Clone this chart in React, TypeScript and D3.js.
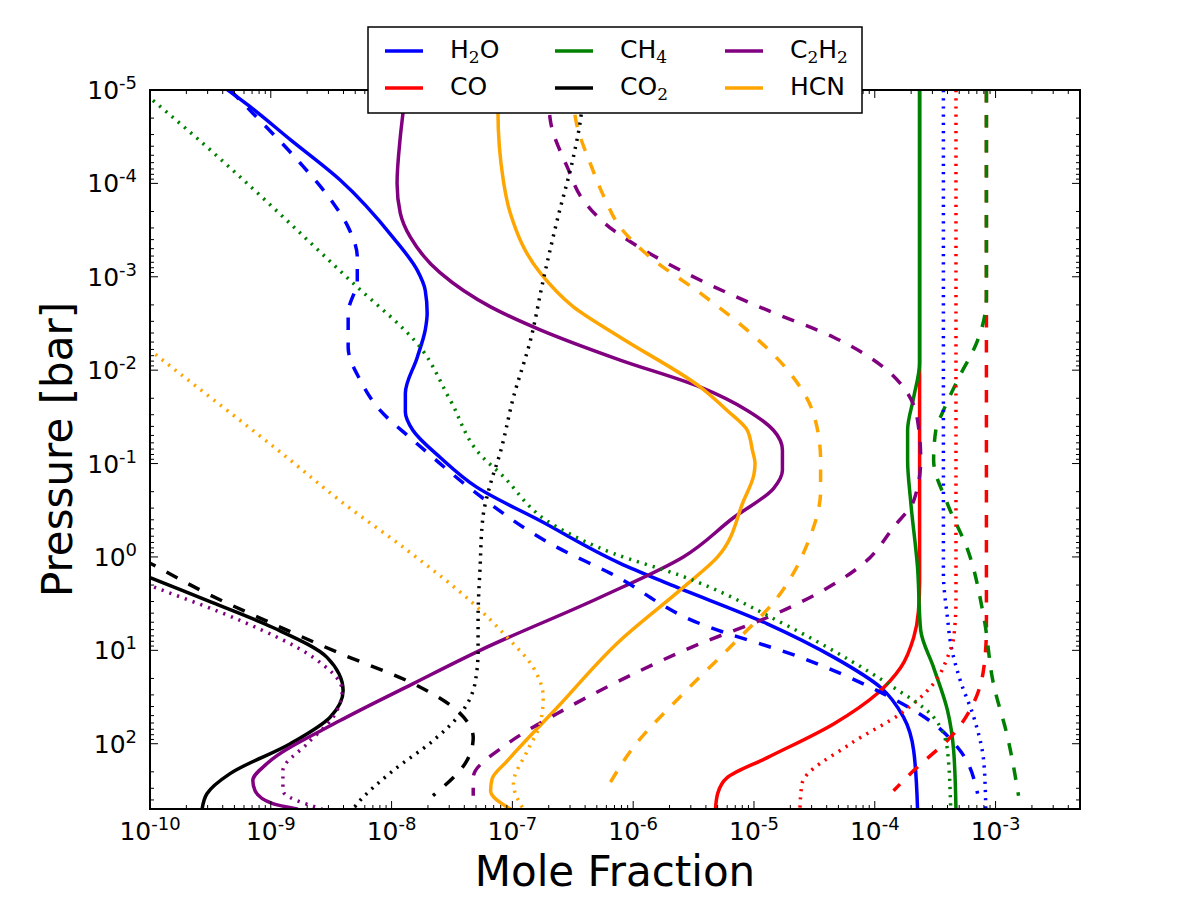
import React from 'react'
import * as d3 from 'd3'

// [mole fraction, pressure in bar]
type Pt = [number, number]

const speciesNames = ['H2O', 'CO', 'CH4', 'CO2', 'C2H2', 'HCN']
const speciesColors = ['#0000ff', '#ff0000', '#008000', '#000000', '#800080', '#ffa500']
// legend label pieces: [text, isSubscript]
const legendParts: [string, boolean][][] = [
  [['H', false], ['2', true], ['O', false]],
  [['CO', false]],
  [['CH', false], ['4', true]],
  [['CO', false], ['2', true]],
  [['C', false], ['2', true], ['H', false], ['2', true]],
  [['HCN', false]],
]

const xTickExps = [-10, -9, -8, -7, -6, -5, -4, -3]
const yTickExps = [-5, -4, -3, -2, -1, 0, 1, 2]

// ---- profiles ----
const h2oSolid: Pt[] = [
  [4.4e-10, 1e-5], [6.7e-10, 1.5e-5], [1.45e-9, 3.4e-5], [3.75e-9, 9.2e-5], [1.03e-8, 3.8e-4],
  [1.63e-8, 8.5e-4], [1.9e-8, 1.4e-3], [1.97e-8, 2.45e-3], [1.9e-8, 3.7e-3], [1.63e-8, 7.3e-3],
  [1.3e-8, 1.77e-2], [1.3e-8, 2.8e-2], [1.5e-8, 4.4e-2], [2.53e-8, 8.6e-2], [5.1e-8, 0.18],
  [1.7e-7, 0.41], [7.8e-7, 1.17], [1.92e-6, 1.92], [1.29e-5, 5.2], [4.6e-5, 11.9],
  [1.12e-4, 25], [1.73e-4, 52], [2.1e-4, 119], [2.26e-4, 500],
]
const h2oDashed: Pt[] = [
  [4.6e-10, 1e-5], [7.1e-10, 1.77e-5], [1.75e-9, 6.05e-5], [3.28e-9, 1.62e-4], [4.37e-9, 2.94e-4],
  [5.2e-9, 6.2e-4], [5.2e-9, 1.09e-3], [4.37e-9, 2.45e-3], [4.37e-9, 5.7e-3], [5.5e-9, 1.28e-2],
  [8.05e-9, 2.7e-2], [1.5e-8, 5.6e-2], [2.2e-8, 8.6e-2], [4.7e-8, 0.194], [2.35e-7, 0.79],
  [6.5e-7, 1.5], [3.6e-6, 5.2], [2.43e-5, 11.9], [1.05e-4, 27], [3.07e-4, 61], [5.1e-4, 119],
  [7.1e-4, 343],
]
const h2oDotted: Pt[] = [
  [3.7e-4, 1e-5], [3.7e-4, 1.5], [4.0e-4, 4.5], [4.25e-4, 8.5], [5.1e-4, 21], [6.6e-4, 52],
  [8.0e-4, 160], [8.3e-4, 500],
]
const coSolid: Pt[] = [
  [2.35e-4, 1e-5], [2.35e-4, 1.9], [2.3e-4, 3.8], [2.1e-4, 7.3], [1.64e-4, 15.3], [1.05e-4, 29],
  [4.6e-5, 61], [1.29e-5, 141], [6.0e-6, 231], [5.0e-6, 343], [4.8e-6, 500],
]
const coDashed: Pt[] = [
  [8.4e-4, 1e-5], [8.4e-4, 5.7], [8.0e-4, 15.3], [7.1e-4, 29], [4.5e-4, 78], [2.1e-4, 194],
  [1.43e-4, 318],
]
const coDotted: Pt[] = [
  [4.7e-4, 1e-5], [4.7e-4, 2.9], [4.5e-4, 7.3], [4.0e-4, 11.9], [3.07e-4, 22.7], [1.64e-4, 47.5],
  [6.3e-5, 100], [2.5e-5, 268], [2.4e-5, 500],
]
const ch4Solid: Pt[] = [
  [2.35e-4, 1e-5], [2.35e-4, 8.4e-3], [2.1e-4, 1.95e-2], [1.87e-4, 4.4e-2], [1.87e-4, 9.2e-2],
  [1.98e-4, 0.25], [2.26e-4, 1.3], [2.4e-4, 6.1], [3.07e-4, 15.3], [4.0e-4, 44], [4.5e-4, 119],
  [4.7e-4, 500],
]
const ch4Dashed: Pt[] = [
  [8.4e-4, 1e-5], [8.4e-4, 1.66e-3], [8.0e-4, 2.9e-3], [7.1e-4, 4.8e-3], [4.85e-4, 1.28e-2],
  [3.7e-4, 2.7e-2], [3.2e-4, 4.4e-2], [3.07e-4, 9.2e-2], [4.0e-4, 0.27], [5.9e-4, 0.85],
  [8.0e-4, 4.45], [9.6e-4, 22.7], [1.26e-3, 86], [1.55e-3, 360],
]
const ch4Dotted: Pt[] = [
  [8.3e-11, 1e-5], [1e-10, 1.22e-5], [4.8e-9, 1.17e-3], [1.73e-8, 5.7e-3], [3.06e-8, 2.1e-2],
  [5.7e-8, 8.6e-2], [7.9e-8, 0.127], [2.35e-7, 0.48], [6.9e-7, 0.92], [2.46e-6, 1.58],
  [1.66e-5, 5.0], [6.3e-5, 12.9], [1.28e-4, 22.7], [3.07e-4, 52], [4.0e-4, 119], [4.25e-4, 500],
]
const co2Solid: Pt[] = [
  [3.9e-11, 1.0], [1e-10, 1.66], [2.96e-10, 2.92], [1.04e-9, 5.7], [2.92e-9, 11.9], [3.97e-9, 27],
  [3.1e-9, 52], [1.45e-9, 100], [4.6e-10, 209], [2.96e-10, 343], [2.7e-10, 500],
]
const co2Dashed: Pt[] = [
  [3.9e-11, 0.6], [1.21e-10, 1.33], [2.96e-10, 2.46], [1.04e-9, 5.2], [3.75e-9, 10.8],
  [1.51e-8, 22.7], [3.7e-8, 47.5], [4.74e-8, 86], [4.2e-8, 152], [2.2e-8, 360],
]
const co2Dotted: Pt[] = [
  [3.87e-7, 1e-5], [3.66e-7, 2.1e-5], [3.2e-7, 5.2e-5], [2.35e-7, 2.47e-4], [1.8e-7, 1.09e-3],
  [1.41e-7, 4.8e-3], [1.02e-7, 1.95e-2], [7.9e-8, 7.8e-2], [6.6e-8, 0.163], [5.7e-8, 0.378],
  [5.4e-8, 1.3], [5.2e-8, 4.45], [5.2e-8, 10], [4.9e-8, 22.7], [3.9e-8, 44], [2.2e-8, 93],
  [1.03e-8, 194], [5.2e-9, 439], [4.8e-9, 500],
]
const c2h2Solid: Pt[] = [
  [1.3e-8, 1e-5], [1.25e-8, 1.64e-5], [1.18e-8, 3.2e-5], [1.11e-8, 1e-4], [1.18e-8, 2.08e-4],
  [1.43e-8, 3.77e-4], [2.53e-8, 9.1e-4], [6.6e-8, 2.1e-3], [1.7e-7, 3.7e-3], [7.8e-7, 7.8e-3],
  [3.6e-6, 1.52e-2], [8.8e-6, 2.7e-2], [1.45e-5, 4.4e-2], [1.72e-5, 7.2e-2], [1.72e-5, 0.118],
  [1.45e-5, 0.185], [6.8e-6, 0.378], [2.6e-6, 1.0], [5.35e-7, 2.7], [5.4e-8, 10], [1.51e-8, 22.7],
  [3.75e-9, 56.5], [9.3e-10, 163], [7.1e-10, 248], [7.4e-10, 318], [1.04e-9, 439], [1.65e-9, 500],
]
const c2h2Dashed: Pt[] = [
  [1.98e-7, 1e-5], [2.06e-7, 2.1e-5], [2.85e-7, 6.7e-5], [3.86e-7, 1.51e-4], [6.85e-7, 3.17e-4],
  [1.0e-6, 4.4e-4], [3.6e-6, 1.09e-3], [1.29e-5, 2.28e-3], [4.56e-5, 4.44e-3], [1.18e-4, 9.3e-3],
  [1.87e-4, 1.77e-2], [2.26e-4, 3.44e-2], [2.4e-4, 9.2e-2], [2.1e-4, 0.25], [1.43e-4, 0.48],
  [8.1e-5, 1.17], [3.36e-5, 2.46], [1.29e-5, 4.45], [3.6e-6, 8.45], [7.8e-7, 21],
  [2.35e-7, 47.5], [9.1e-8, 100], [4.74e-8, 231], [4.74e-8, 360],
]
const c2h2Dotted: Pt[] = [
  [3.9e-11, 1.26], [1e-10, 2.02], [5.6e-10, 4.8], [2.24e-9, 11.9], [3.9e-9, 27], [3.28e-9, 52],
  [2.0e-9, 100], [1.26e-9, 194], [1.26e-9, 318], [2.66e-9, 500],
]
const hcnSolid: Pt[] = [
  [7.6e-8, 1e-5], [7.6e-8, 1.72e-5], [8.4e-8, 9.2e-5], [9.6e-8, 2.08e-4], [1.7e-7, 9.1e-4],
  [3.2e-7, 2.1e-3], [7.8e-7, 4.44e-3], [3.6e-6, 1.52e-2], [6.0e-6, 2.7e-2], [8.8e-6, 4.4e-2],
  [9.7e-6, 7.2e-2], [1.02e-5, 0.1], [1.0e-5, 0.13], [8.2e-6, 0.25], [5.0e-6, 1.0], [2.6e-6, 2.12],
  [7.8e-7, 7.85], [2.35e-7, 41], [9.1e-8, 152], [6.8e-8, 237], [6.6e-8, 318], [9.6e-8, 500],
]
const hcnDashed: Pt[] = [
  [3.13e-7, 1e-5], [3.45e-7, 2.5e-5], [4.4e-7, 6.05e-5], [5.9e-7, 1.51e-4], [7.8e-7, 2.94e-4],
  [1.39e-6, 6.2e-4], [3.6e-6, 1.5e-3], [9.35e-6, 4.0e-3], [1.9e-5, 1e-2], [3.1e-5, 2.9e-2],
  [3.56e-5, 9.2e-2], [3.56e-5, 0.194], [2.77e-5, 0.72], [1.57e-5, 2.7], [6.8e-6, 8.45],
  [2.6e-6, 29], [1.0e-6, 110], [6.1e-7, 296],
]
const hcnDotted: Pt[] = [
  [6.8e-11, 4.1e-3], [1e-10, 6.1e-3], [1.36e-9, 8.6e-2], [3.75e-9, 0.25], [1.35e-8, 0.85],
  [4.74e-8, 3.15], [9.1e-8, 7.3], [1.49e-7, 15.3], [1.8e-7, 32], [1.7e-7, 61], [1.33e-7, 119],
  [1.02e-7, 268], [1.23e-7, 500],
]

const solidSet = [h2oSolid, coSolid, ch4Solid, co2Solid, c2h2Solid, hcnSolid]
const dashedSet = [h2oDashed, coDashed, ch4Dashed, co2Dashed, c2h2Dashed, hcnDashed]
const dottedSet = [h2oDotted, coDotted, ch4Dotted, co2Dotted, c2h2Dotted, hcnDotted]

const W = 1200
const H = 900
const left = 150
const right = 1080
const top = 90
const bottom = 809

const styles = [
  { set: solidSet, dash: undefined, cap: 'round' },
  { set: dashedSet, dash: '12.5,12.5', cap: 'butt' },
  { set: dottedSet, dash: '2.2,6', cap: 'butt' },
]

export default function App() {
  const x = d3.scaleLog().domain([1e-10, 5e-3]).range([left, right])
  const y = d3.scaleLog().domain([1e-5, 500]).range([top, bottom])

  const line = d3
    .line<Pt>()
    .x((d) => x(d[0]))
    .y((d) => y(d[1]))
    .curve(d3.curveMonotoneY)

  // minor ticks (2..9 per decade)
  const minor = (scale: d3.ScaleLogarithmic<number, number>, lo: number, hi: number) => {
    const out: number[] = []
    const [d0, d1] = scale.domain()
    for (let e = lo; e <= hi; e++) {
      for (let m = 2; m <= 9; m++) {
        const v = m * Math.pow(10, e)
        if (v >= d0 * 0.999 && v <= d1 * 1.001) out.push(v)
      }
    }
    return out
  }
  const xMinor = minor(x, -10, -3)
  const yMinor = minor(y, -5, 2)

  const font = 'DejaVu Sans, sans-serif'

  return (
    <svg
      width={W}
      height={H}
      style={{ position: 'absolute', left: 0, top: 0, background: '#fff' }}
      fontFamily={font}
    >
      <rect x={0} y={0} width={W} height={H} fill="#fff" />
      <defs>
        <clipPath id="plotClip">
          <rect x={left} y={top} width={right - left} height={bottom - top} />
        </clipPath>
      </defs>

      {/* profiles */}
      <g clipPath="url(#plotClip)" fill="none">
        {styles.map((st, si) =>
          st.set.map((data, k) => (
            <path
              key={si + '-' + k}
              d={line(data) || ''}
              stroke={speciesColors[k]}
              strokeWidth={3.5}
              strokeDasharray={st.dash}
              strokeLinecap={st.cap as any}
              strokeLinejoin="round"
            />
          ))
        )}
      </g>

      {/* ticks */}
      <g stroke="#000" strokeWidth={1}>
        {xTickExps.map((e) => {
          const px = x(Math.pow(10, e))
          return (
            <g key={'xt' + e}>
              <line x1={px} x2={px} y1={bottom} y2={bottom - 8} />
              <line x1={px} x2={px} y1={top} y2={top + 8} />
            </g>
          )
        })}
        {xMinor.map((v, i) => (
          <g key={'xm' + i}>
            <line x1={x(v)} x2={x(v)} y1={bottom} y2={bottom - 4} />
            <line x1={x(v)} x2={x(v)} y1={top} y2={top + 4} />
          </g>
        ))}
        {yTickExps.map((e) => {
          const py = y(Math.pow(10, e))
          return (
            <g key={'yt' + e}>
              <line x1={left} x2={left + 8} y1={py} y2={py} />
              <line x1={right} x2={right - 8} y1={py} y2={py} />
            </g>
          )
        })}
        {yMinor.map((v, i) => (
          <g key={'ym' + i}>
            <line x1={left} x2={left + 4} y1={y(v)} y2={y(v)} />
            <line x1={right} x2={right - 4} y1={y(v)} y2={y(v)} />
          </g>
        ))}
      </g>

      {/* frame */}
      <rect
        x={left}
        y={top}
        width={right - left}
        height={bottom - top}
        fill="none"
        stroke="#000"
        strokeWidth={2}
      />

      {/* tick labels */}
      {xTickExps.map((e) => (
        <text key={'xl' + e} x={x(Math.pow(10, e))} y={840} fontSize={25} textAnchor="middle">
          10
          <tspan dy={-10} fontSize={18}>
            {String(e)}
          </tspan>
        </text>
      ))}
      {yTickExps.map((e) => (
        <text key={'yl' + e} x={137} y={y(Math.pow(10, e)) + 9} fontSize={25} textAnchor="end">
          10
          <tspan dy={-10} fontSize={18}>
            {String(e)}
          </tspan>
        </text>
      ))}

      {/* axis titles */}
      <text x={(left + right) / 2} y={886} fontSize={42} textAnchor="middle">
        Mole Fraction
      </text>
      <text transform={`translate(72,${(top + bottom) / 2}) rotate(-90)`} fontSize={42} textAnchor="middle">
        Pressure [bar]
      </text>

      {/* legend */}
      <g>
        <rect x={368} y={27} width={494} height={86} fill="#fff" stroke="#000" strokeWidth={1.5} />
        {speciesNames.map((name, i) => {
          const col = Math.floor(i / 2)
          const row = i % 2
          const hx = 385 + col * 170
          const cy = 51 + row * 37
          return (
            <g key={name}>
              <line x1={hx} x2={hx + 38} y1={cy} y2={cy} stroke={speciesColors[i]} strokeWidth={3.5} />
              <text x={hx + 65} y={cy + 7} fontSize={25}>
                {legendParts[i].map(([t, sub], j) => {
                  const prevSub = j > 0 && legendParts[i][j - 1][1]
                  const dy = sub ? 5 : prevSub ? -5 : 0
                  return (
                    <tspan
                      key={j}
                      dy={dy}
                      fontSize={sub ? 17 : 25}
                      fontFamily={sub ? 'DejaVu Serif, serif' : font}
                    >
                      {t}
                    </tspan>
                  )
                })}
              </text>
            </g>
          )
        })}
      </g>
    </svg>
  )
}
